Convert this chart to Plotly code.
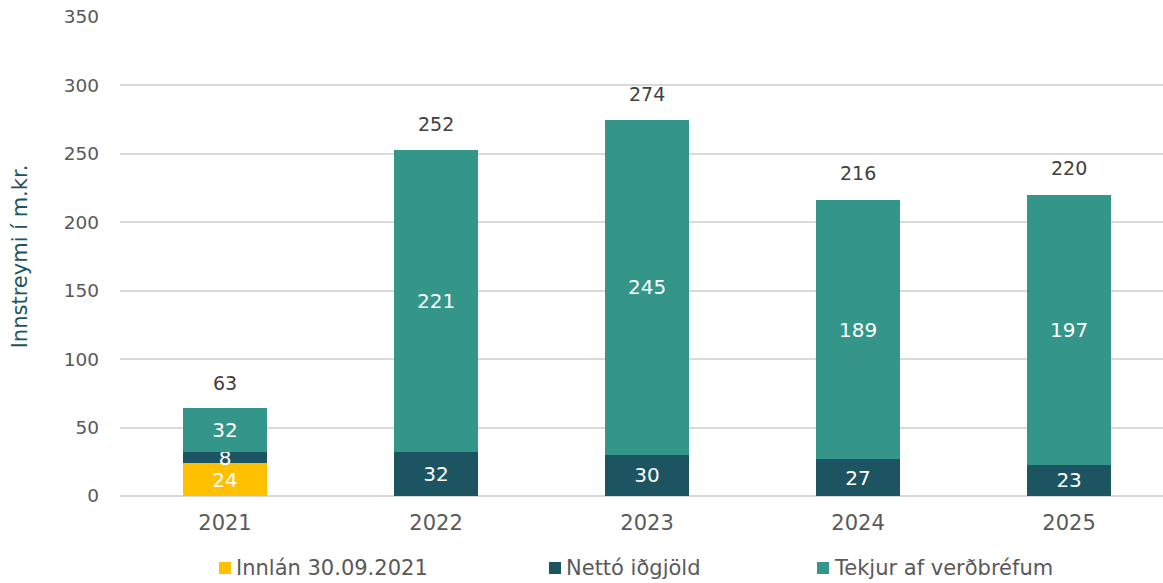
import plotly.graph_objects as go

# Values in millions of ISK
years = ["2021", "2022", "2023", "2024", "2025"]
innlan = [24, None, None, None, None]
netto_idgjold = [8, 32, 30, 27, 23]
tekjur_verdbref = [32, 221, 245, 189, 197]
totals = [63, 252, 274, 216, 220]

series_names = ["Innlán 30.09.2021", "Nettó iðgjöld", "Tekjur af verðbréfum"]
series_colors = ["#FFC000", "#1D5461", "#339688"]

W, H = 1163, 583
L, R, T, B = 120, 0, 17, 87
FONT = "DejaVu Sans"

fig = go.Figure()
for name, vals, color in zip(series_names, [innlan, netto_idgjold, tekjur_verdbref], series_colors):
    fig.add_trace(go.Bar(
        x=years, y=vals, name=name,
        marker=dict(color=color, line=dict(width=0)),
        text=[("" if v is None else str(v)) for v in vals],
        textposition="inside", insidetextanchor="middle", textangle=0,
        textfont=dict(family=FONT, size=20, color="white"),
        width=0.4, showlegend=False, hoverinfo="x+y+name",
    ))

# Totals above each stacked bar
for i, tot in enumerate(totals):
    fig.add_annotation(
        x=i, y=tot, text=str(tot), showarrow=False, yshift=27,
        font=dict(family=FONT, size=19, color="#404040"),
        xref="x", yref="y",
    )

# Legend drawn below the axis
plot_w = W - L - R
plot_h = H - T - B
def px_x(p):
    return (p - L) / plot_w
def px_y(p):
    return (H - B - p) / plot_h

legend_x = [219, 549, 817]
for name, color, lx in zip(series_names, series_colors, legend_x):
    fig.add_shape(type="rect", xref="paper", yref="paper",
                  x0=px_x(lx), x1=px_x(lx + 12), y0=px_y(574), y1=px_y(562),
                  fillcolor=color, line=dict(width=0))
    fig.add_annotation(xref="paper", yref="paper", x=px_x(lx + 15), y=px_y(568),
                       text=name, showarrow=False, xanchor="left", yanchor="middle",
                       font=dict(family=FONT, size=21, color="#595959"))

fig.update_layout(
    barmode="stack",
    width=W, height=H,
    margin=dict(l=L, r=R, t=T, b=B, autoexpand=False),
    plot_bgcolor="white", paper_bgcolor="white",
    showlegend=False,
    uniformtext=dict(minsize=20, mode="show"),
    xaxis=dict(
        type="category", range=[-0.4976, 4.445],
        showgrid=False, showline=False, zeroline=False,
        tickfont=dict(family=FONT, size=21, color="#595959"),
        ticklabelstandoff=12,
    ),
    yaxis=dict(
        range=[0, 350], dtick=50,
        showgrid=True, gridcolor="#D9D9D9", gridwidth=1.5,
        zeroline=True, zerolinecolor="#D9D9D9", zerolinewidth=1.5,
        showline=False,
        tickfont=dict(family=FONT, size=18.5, color="#595959"),
        ticklabelstandoff=20,
        title=dict(text="Innstreymi í m.kr.", standoff=30,
                   font=dict(family=FONT, size=21, color="#1D5461")),
    ),
)

fig.write_html("out.html")
